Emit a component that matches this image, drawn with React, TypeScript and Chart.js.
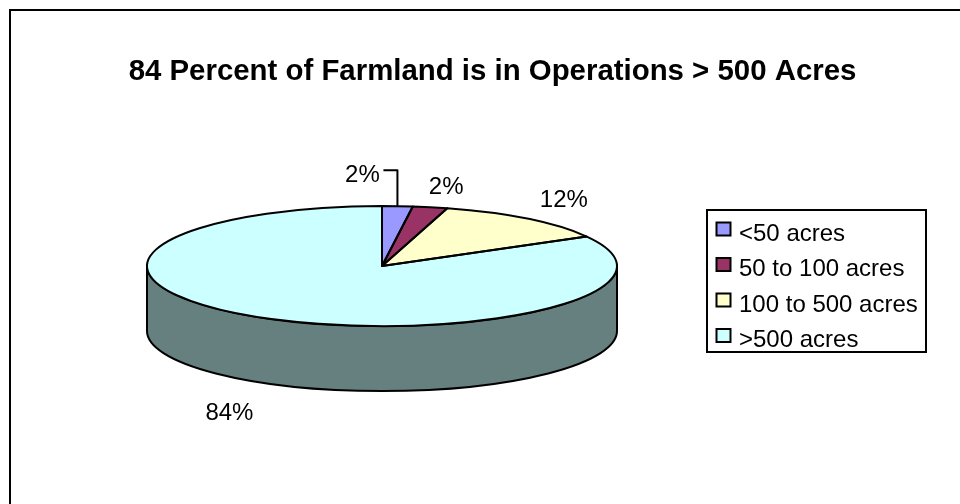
import React, { useEffect, useRef } from "react";
import { Chart, registerables } from "chart.js";

Chart.register(...registerables);

const titleText = "84 Percent of Farmland is in Operations > 500 Acres";
const categories = ["<50 acres", "50 to 100 acres", "100 to 500 acres", ">500 acres"];
const shares = [2.1, 2.4, 12.4, 83.5];
const sliceColors = ["#9999FF", "#993366", "#FFFFCC", "#CCFFFF"];

const FONT = "'Liberation Sans', Arial, sans-serif";
const LABEL_SIZE = 24;
const SQUASH = 60 / 235;
const DEPTH = 65;
const PIE_AREA = { left: 147, top: 31, width: 470, height: 470 };
const LEGEND_FRAME = { x: 707, y: 210, w: 219, h: 142 };
const LEGEND_PAD = 11.5;
const labelOffsets = [
  [-35, -31],
  [16, -20],
  [36, -19],
  [-34, 96],
];

const halfTone = (hex: string) => {
  const n = parseInt(hex.slice(1), 16);
  const c = [(n >> 16) & 255, (n >> 8) & 255, n & 255].map((v) => Math.round(v / 2));
  return `rgb(${c[0]},${c[1]},${c[2]})`;
};

const pie3d = {
  id: "pie3d",
  afterLayout(chart: any) {
    chart.chartArea = {
      left: PIE_AREA.left,
      top: PIE_AREA.top,
      right: PIE_AREA.left + PIE_AREA.width,
      bottom: PIE_AREA.top + PIE_AREA.height,
      width: PIE_AREA.width,
      height: PIE_AREA.height,
    };
    const lg = chart.legend;
    lg.left = LEGEND_FRAME.x - 1.5;
    lg.top = LEGEND_FRAME.y + 0.5;
    lg.right = chart.width;
    lg.bottom = chart.height;
  },
  beforeDraw(chart: any) {
    const { ctx, width, height } = chart;
    ctx.save();
    ctx.strokeStyle = "#000";
    ctx.lineWidth = 2;
    ctx.beginPath();
    ctx.moveTo(10, height);
    ctx.lineTo(10, 10);
    ctx.lineTo(width, 10);
    ctx.stroke();
    ctx.restore();
  },
  beforeDatasetsDraw(chart: any) {
    const { ctx } = chart;
    const arcs = chart.getDatasetMeta(0).data;
    ctx.save();
    ctx.strokeStyle = "#000";
    ctx.lineWidth = 2;
    ctx.lineJoin = "round";
    arcs.forEach((arc: any, i: number) => {
      const s = Math.max(arc.startAngle, 0);
      const e = Math.min(arc.endAngle, Math.PI);
      if (e <= s) return;
      const ry = arc.outerRadius * SQUASH;
      ctx.beginPath();
      ctx.ellipse(arc.x, arc.y, arc.outerRadius, ry, 0, s, e, false);
      ctx.ellipse(arc.x, arc.y + DEPTH, arc.outerRadius, ry, 0, e, s, true);
      ctx.closePath();
      ctx.fillStyle = halfTone(sliceColors[i]);
      ctx.fill();
      ctx.stroke();
    });
    ctx.restore();
    const first = arcs[0];
    ctx.save();
    ctx.translate(first.x, first.y);
    ctx.scale(1, SQUASH);
    ctx.translate(-first.x, -first.y);
  },
  afterDatasetsDraw(chart: any) {
    const { ctx } = chart;
    ctx.restore();
    const arcs = chart.getDatasetMeta(0).data;
    ctx.save();
    ctx.strokeStyle = "#000";
    ctx.lineWidth = 2;
    ctx.lineJoin = "round";
    arcs.forEach((arc: any) => {
      ctx.beginPath();
      ctx.moveTo(arc.x, arc.y);
      ctx.ellipse(arc.x, arc.y, arc.outerRadius, arc.outerRadius * SQUASH, 0, arc.startAngle, arc.endAngle, false);
      ctx.closePath();
      ctx.stroke();
    });
    ctx.fillStyle = "#000";
    ctx.font = `${LABEL_SIZE}px ${FONT}`;
    ctx.textAlign = "center";
    ctx.textBaseline = "middle";
    arcs.forEach((arc: any, i: number) => {
      const mid = (arc.startAngle + arc.endAngle) / 2;
      const rimX = arc.x + arc.outerRadius * Math.cos(mid);
      const rimY = arc.y + arc.outerRadius * SQUASH * Math.sin(mid);
      const lx = rimX + labelOffsets[i][0];
      const ly = rimY + labelOffsets[i][1];
      ctx.fillText(`${Math.round(shares[i])}%`, lx, ly);
      if (i === 0) {
        ctx.beginPath();
        ctx.moveTo(lx + 21, ly - 5);
        ctx.lineTo(rimX, ly - 5);
        ctx.lineTo(rimX, rimY);
        ctx.stroke();
      }
    });
    ctx.restore();
  },
  afterDraw(chart: any) {
    const { ctx } = chart;
    ctx.save();
    ctx.strokeStyle = "#000";
    ctx.lineWidth = 2;
    ctx.strokeRect(LEGEND_FRAME.x, LEGEND_FRAME.y, LEGEND_FRAME.w, LEGEND_FRAME.h);
    const rowStep = LABEL_SIZE + LEGEND_PAD;
    sliceColors.forEach((color, i) => {
      const x = LEGEND_FRAME.x + 9.5;
      const y = LEGEND_FRAME.y + 12.5 + i * rowStep;
      ctx.fillStyle = color;
      ctx.fillRect(x, y, 14, 13);
      ctx.strokeRect(x, y, 14, 13);
    });
    ctx.restore();
  },
};

export default function App() {
  const ref = useRef<HTMLCanvasElement>(null);
  useEffect(() => {
    document.body.style.margin = "0";
    const baseLabels = (Chart as any).overrides.pie.plugins.legend.labels.generateLabels;
    const chart = new Chart(ref.current as HTMLCanvasElement, {
      type: "pie",
      data: {
        labels: categories,
        datasets: [{ data: shares, backgroundColor: sliceColors, borderWidth: 0 }],
      },
      options: {
        responsive: false,
        animation: false,
        layout: { padding: { left: 25 } },
        plugins: {
          tooltip: { enabled: false },
          title: {
            display: true,
            text: titleText,
            color: "#000",
            font: { family: FONT, size: 29.4, weight: "bold" },
            padding: { top: 54, bottom: 10 },
          },
          legend: {
            position: "right",
            align: "start",
            labels: {
              color: "#000",
              font: { family: FONT, size: LABEL_SIZE },
              boxWidth: 10,
              boxHeight: 13,
              padding: LEGEND_PAD,
              generateLabels: (c: any) =>
                baseLabels(c).map((item: any) => ({
                  ...item,
                  fillStyle: "rgba(0,0,0,0)",
                  strokeStyle: "rgba(0,0,0,0)",
                  lineWidth: 0,
                })),
            },
          },
        },
      },
      plugins: [pie3d],
    } as any);
    return () => chart.destroy();
  }, []);
  return <canvas ref={ref} width={960} height={504} style={{ display: "block" }} />;
}
